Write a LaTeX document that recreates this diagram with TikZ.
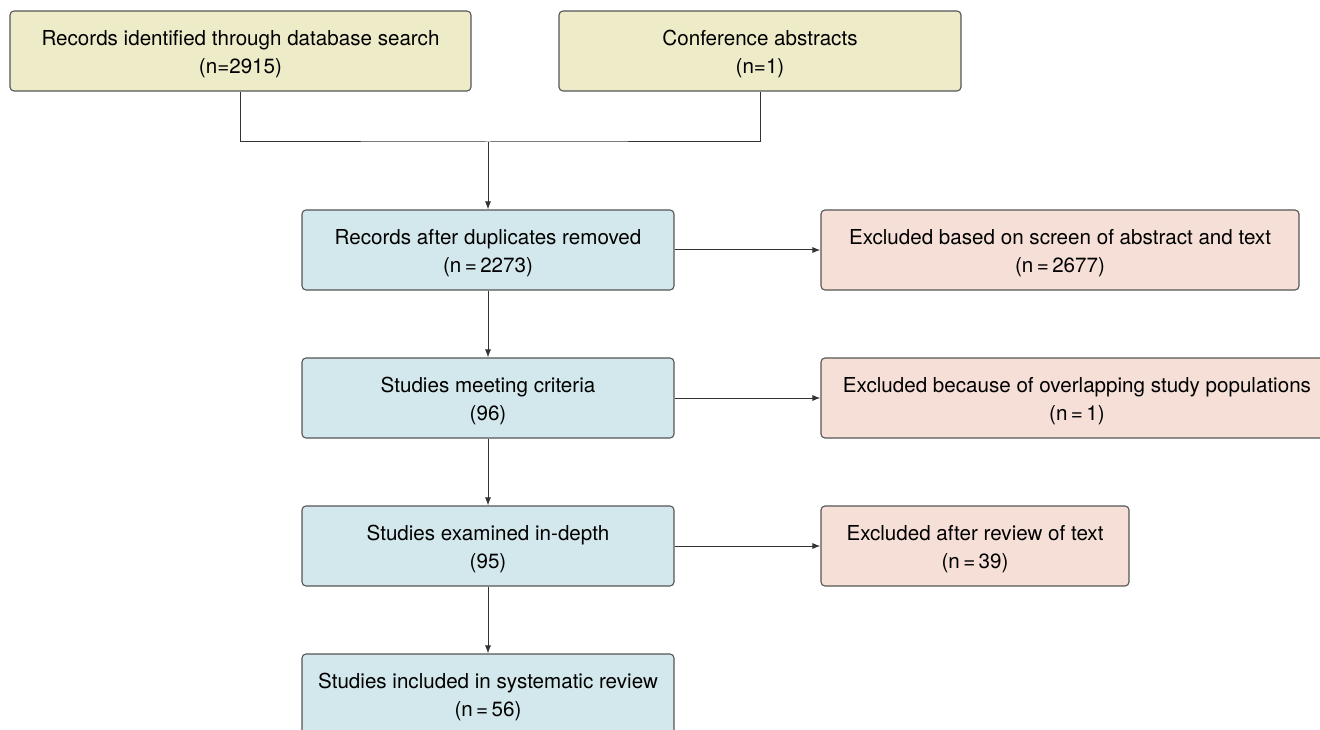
\documentclass[tikz,border=0pt]{standalone}
\usepackage{fontspec}
\setmainfont{TeX Gyre Heros}
\usetikzlibrary{arrows.meta}
\definecolor{col_EEEBC9}{RGB}{238,235,201}
\definecolor{col_D3E8EC}{RGB}{211,232,236}
\definecolor{col_F5DFD7}{RGB}{245,223,215}
\definecolor{col_555555}{RGB}{85,85,85}
\definecolor{col_333333}{RGB}{51,51,51}
\newcommand{\boxtext}[2]{\rule{0pt}{20.5pt}#1\\#2}
\tikzset{
  flowbox/.style={draw=col_555555, line width=1.1pt, rounded corners=4pt, align=center,
    inner sep=0pt, font=\fontsize{20.6}{28}\selectfont, text=black},
  srcbox/.style={flowbox, fill=col_EEEBC9},
  mainbox/.style={flowbox, fill=col_D3E8EC},
  exclbox/.style={flowbox, fill=col_F5DFD7},
  flowline/.style={draw=col_333333, line width=1pt},
  flowarrow/.style={flowline, -{Latex[length=8pt,width=6pt]}}
}

\begin{document}
\begin{tikzpicture}[x=1pt,y=-1pt]
\useasboundingbox (0,0) rectangle (1320,730);
\clip (0,0) rectangle (1320,730);
%% sources
\node[srcbox, minimum width=461, minimum height=80] (dbsearch) at (240.5,51) {\boxtext{Records identified through database search}{(n=2915)}};
\node[srcbox, minimum width=402, minimum height=80] (confabs) at (760,51) {\boxtext{Conference abstracts}{(n=1)}};
%% main column
\node[mainbox, minimum width=372, minimum height=80] (dedup) at (488,250) {\boxtext{Records after duplicates removed}{(n\,=\,2273)}};
\node[mainbox, minimum width=372, minimum height=80] (criteria) at (488,398) {\boxtext{Studies meeting criteria}{(96)}};
\node[mainbox, minimum width=372, minimum height=80] (indepth) at (488,546) {\boxtext{Studies examined in-depth}{(95)}};
\node[mainbox, minimum width=372, minimum height=80] (included) at (488,694) {\boxtext{Studies included in systematic review}{(n\,=\,56)}};
%% exclusions
\node[exclbox, minimum width=478, minimum height=80] (exclscreen) at (1060,250) {\boxtext{Excluded based on screen of abstract and text}{(n\,=\,2677)}};
\node[exclbox, minimum width=512, minimum height=80] (excloverlap) at (1077,398) {\boxtext{Excluded because of overlapping study populations}{(n\,=\,1)}};
\node[exclbox, minimum width=308, minimum height=80] (exclreview) at (975,546) {\boxtext{Excluded after review of text}{(n\,=\,39)}};
%% connectors
\coordinate (merge) at (488,142);
\draw[flowline] (dbsearch.south) |- (merge) -| (confabs.south);
\draw[flowarrow] (merge) -- (dedup.north);
\draw[flowarrow] (dedup) -- (criteria);
\draw[flowarrow] (criteria) -- (indepth);
\draw[flowarrow] (indepth) -- (included);
\draw[flowarrow] (dedup.east) -- (exclscreen.west);
\draw[flowarrow] (criteria.east) -- (excloverlap.west);
\draw[flowarrow] (indepth.east) -- (exclreview.west);
\end{tikzpicture}
\end{document}
